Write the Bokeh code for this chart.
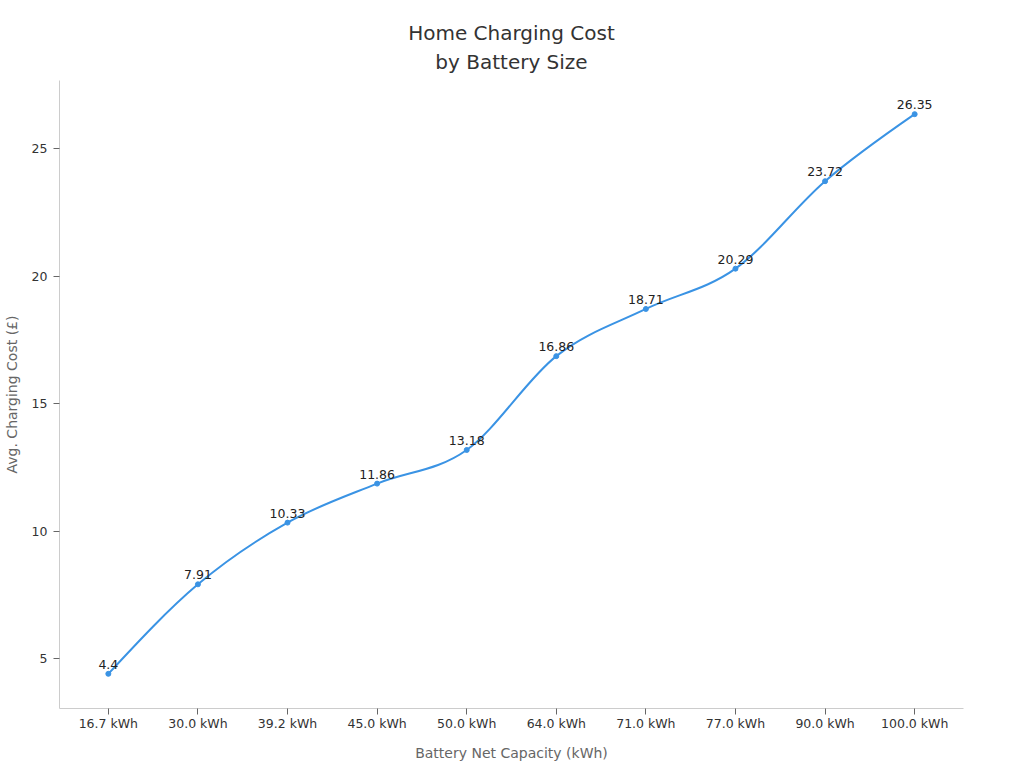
import numpy as np
from bokeh.plotting import figure
from bokeh.models import ColumnDataSource, Range1d, FixedTicker, LabelSet, Title
from bokeh.core.properties import value
from bokeh.embed import file_html
from bokeh.resources import INLINE

categories = ["16.7 kWh", "30.0 kWh", "39.2 kWh", "45.0 kWh", "50.0 kWh",
              "64.0 kWh", "71.0 kWh", "77.0 kWh", "90.0 kWh", "100.0 kWh"]
costs = [4.4, 7.91, 10.33, 11.86, 13.18, 16.86, 18.71, 20.29, 23.72, 26.35]
y_ticks = [5, 10, 15, 20, 25]

LINE = "#3a93e4"
FONT = "DejaVu Sans"

xs = np.arange(len(categories), dtype=float)
ys = np.array(costs, dtype=float)

# monotone-X (d3 style) tangents for the smooth connecting curve
n = len(xs)
h = np.diff(xs)
s = np.diff(ys) / h
t = np.zeros(n)
for i in range(1, n - 1):
    s0, s1 = s[i - 1], s[i]
    p_ = (s0 * h[i] + s1 * h[i - 1]) / (h[i - 1] + h[i])
    t[i] = (np.sign(s0) + np.sign(s1)) * min(abs(s0), abs(s1), 0.5 * abs(p_))
t[0] = (3 * s[0] - t[1]) / 2
t[-1] = (3 * s[-1] - t[-2]) / 2
dx = h / 3.0
seg = ColumnDataSource(dict(
    x0=xs[:-1], y0=ys[:-1], x1=xs[1:], y1=ys[1:],
    cx0=xs[:-1] + dx, cy0=ys[:-1] + dx * t[:-1],
    cx1=xs[1:] - dx, cy1=ys[1:] - dx * t[1:],
))

pts = ColumnDataSource(dict(x=xs, y=ys, lbl=[f"{v:g}" for v in costs]))

p = figure(width=1008, height=763, output_backend="svg", toolbar_location=None,
           x_range=Range1d(-0.545, 9.545), y_range=Range1d(3.04, 27.67),
           min_border_left=59, min_border_right=45, min_border_top=80, min_border_bottom=55)

p.title.text = "Home Charging Cost"
p.title.align = "center"
p.title.text_font = FONT
p.title.text_font_size = "20px"
p.title.text_font_style = "normal"
p.title.text_color = "#333333"
p.title.standoff = 0
p.add_layout(Title(text="by Battery Size", align="center", text_font=FONT,
                   text_font_size="20px", text_font_style="normal",
                   text_color="#333333", standoff=10, vertical_align="top"), "above")

p.bezier(x0="x0", y0="y0", x1="x1", y1="y1", cx0="cx0", cy0="cy0", cx1="cx1", cy1="cy1",
         source=seg, line_color=LINE, line_width=2)
p.scatter(x="x", y="y", source=pts, size=5, fill_color=LINE, line_color=LINE)

labels = LabelSet(x="x", y="y", text="lbl", source=pts, text_align="center",
                  text_baseline="bottom", y_offset=5, text_font_size=value("12.5px"),
                  text_color="#222222", text_font=value(FONT))
p.add_layout(labels)

p.xgrid.visible = False
p.ygrid.visible = False
p.outline_line_color = None
p.background_fill_color = "white"
p.border_fill_color = "white"

p.xaxis.ticker = FixedTicker(ticks=list(xs))
p.xaxis.major_label_overrides = {i: c for i, c in enumerate(categories)}
p.yaxis.ticker = FixedTicker(ticks=y_ticks)

p.xaxis.axis_label = "Battery Net Capacity (kWh)"
p.yaxis.axis_label = "Avg. Charging Cost (£)"
for ax in (p.xaxis, p.yaxis):
    ax.axis_line_color = "#cccccc"
    ax.major_tick_line_color = "#666666"
    ax.major_tick_out = 6
    ax.major_tick_in = 0
    ax.minor_tick_line_color = None
    ax.major_label_text_font = FONT
    ax.major_label_text_font_size = "12.5px"
    ax.major_label_text_color = "#333333"
    ax.axis_label_text_font = FONT
    ax.axis_label_text_font_size = "14px"
    ax.axis_label_text_font_style = "normal"
    ax.axis_label_text_color = "#666666"
p.xaxis.major_label_standoff = 1
p.xaxis.axis_label_standoff = 11
p.yaxis.major_label_standoff = 6
p.yaxis.axis_label_standoff = 9

open("out.html", "w").write(file_html(p, INLINE))
